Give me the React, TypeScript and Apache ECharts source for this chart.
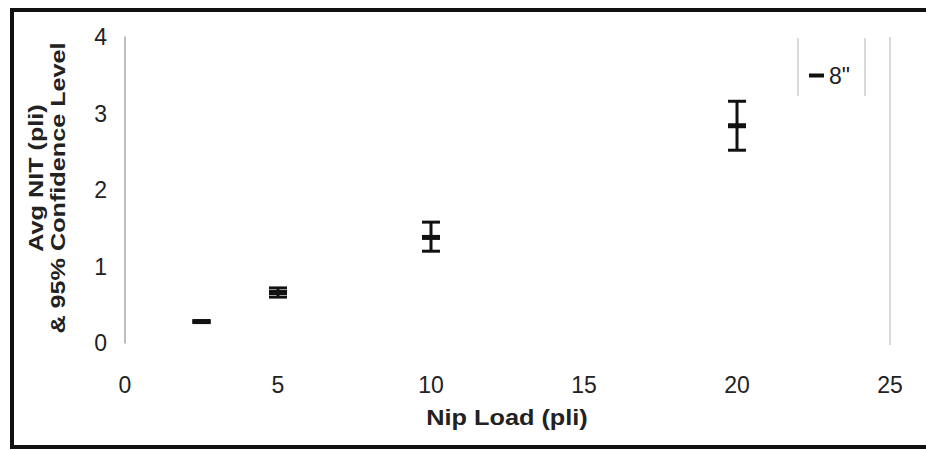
import React, { useEffect, useRef } from "react";
import * as echarts from "echarts";

const nipLoad = [2.5, 5, 10, 20];
const avgNit = [0.28, 0.66, 1.38, 2.84];
const ciLow = [0.27, 0.6, 1.2, 2.52];
const ciHigh = [0.29, 0.72, 1.58, 3.16];
const seriesName = '8"';
const xTicks = [0, 5, 10, 15, 20, 25];
const yTicks = [0, 1, 2, 3, 4];

export default function App() {
  const ref = useRef<HTMLDivElement>(null);
  useEffect(() => {
    document.body.style.margin = "0";
    const chart = echarts.init(ref.current!, null, { renderer: "svg" });
    const data = nipLoad.map((x, i) => [x, avgNit[i], ciLow[i], ciHigh[i]]);
    const font = "'Liberation Sans', Arial, sans-serif";
    const titleStyle = {
      fontSize: 21,
      fontWeight: "bold",
      fontFamily: font,
      fill: "#222",
      align: "center",
      verticalAlign: "middle",
    };
    chart.setOption({
      animation: false,
      backgroundColor: "#fff",
      grid: { left: 125, right: 36, top: 37, bottom: 107 },
      xAxis: {
        type: "value",
        min: xTicks[0],
        max: xTicks[xTicks.length - 1],
        interval: 5,
        axisLine: { show: false },
        axisTick: { show: false },
        splitLine: { show: false },
        axisLabel: { color: "#222", fontSize: 23, fontFamily: font, margin: 30 },
      },
      yAxis: {
        type: "value",
        min: yTicks[0],
        max: yTicks[yTicks.length - 1],
        interval: 1,
        axisLine: { show: true, lineStyle: { color: "#aaa", width: 1.5 } },
        axisTick: { show: false },
        splitLine: { show: false },
        axisLabel: { color: "#222", fontSize: 23, fontFamily: font, margin: 18 },
      },
      legend: {
        show: true,
        data: [{ name: seriesName, icon: "rect" }],
        left: 804,
        top: 59,
        itemWidth: 15,
        itemHeight: 4,
        itemGap: 4,
        textStyle: { fontSize: 23, fontFamily: font, color: "#222" },
      },
      graphic: [
        {
          type: "rect",
          shape: { x: 12, y: 10, width: 930, height: 437 },
          style: { fill: "none", stroke: "#111", lineWidth: 4 },
          silent: true,
        },
        {
          type: "line",
          shape: { x1: 890, y1: 37, x2: 890, y2: 345 },
          style: { stroke: "#ccc", lineWidth: 1.5 },
        },
        {
          type: "line",
          shape: { x1: 798, y1: 38, x2: 798, y2: 96 },
          style: { stroke: "#ccc", lineWidth: 1.5 },
        },
        {
          type: "line",
          shape: { x1: 865, y1: 38, x2: 865, y2: 96 },
          style: { stroke: "#ccc", lineWidth: 1.5 },
        },
        {
          type: "text",
          x: 36,
          y: 178,
          rotation: Math.PI / 2,
          scaleX: 1.2,
          style: { ...titleStyle, text: "Avg NIT (pli)" },
        },
        {
          type: "text",
          x: 58,
          y: 188,
          rotation: Math.PI / 2,
          scaleX: 1.2,
          style: { ...titleStyle, text: "& 95% Confidence Level" },
        },
        {
          type: "text",
          x: 507,
          y: 418,
          scaleX: 1.15,
          style: { ...titleStyle, fontSize: 22, text: "Nip Load (pli)" },
        },
      ],
      series: [
        {
          name: seriesName,
          type: "custom",
          itemStyle: { color: "#111" },
          data,
          renderItem: (params: any, api: any) => {
            const x = api.value(0);
            const mean = api.coord([x, api.value(1)]);
            const lo = api.coord([x, api.value(2)]);
            const hi = api.coord([x, api.value(3)]);
            const capW = 9;
            const meanW = 9;
            const st = { stroke: "#111", lineWidth: 3 };
            return {
              type: "group",
              children: [
                { type: "line", shape: { x1: lo[0], y1: lo[1], x2: hi[0], y2: hi[1] }, style: st },
                { type: "line", shape: { x1: lo[0] - capW, y1: lo[1], x2: lo[0] + capW, y2: lo[1] }, style: st },
                { type: "line", shape: { x1: hi[0] - capW, y1: hi[1], x2: hi[0] + capW, y2: hi[1] }, style: st },
                {
                  type: "line",
                  shape: { x1: mean[0] - meanW, y1: mean[1], x2: mean[0] + meanW, y2: mean[1] },
                  style: { stroke: "#111", lineWidth: 5 },
                },
              ],
            };
          },
        },
      ],
    });
    return () => chart.dispose();
  }, []);
  return <div ref={ref} style={{ width: 926, height: 450 }} />;
}
